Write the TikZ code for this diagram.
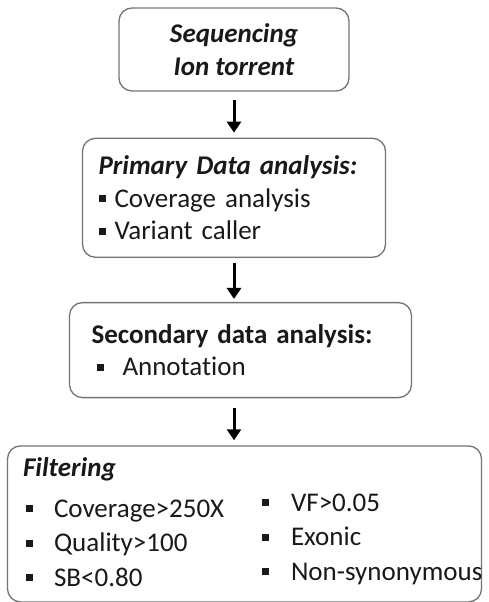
\documentclass[tikz,border=0pt]{standalone}
\usepackage{fontspec}
\setmainfont{Carlito}[Ligatures=NoCommon]
\usetikzlibrary{positioning,arrows.meta}
\newcommand{\sqbullet}[1][9pt]{\rule[5pt]{7pt}{7pt}\hspace{#1}}

\begin{document}
\begin{tikzpicture}[x=1pt, y=1pt, node distance=45pt,
		box/.style = {draw=black!55, line width=1.3pt, rounded corners=13pt,
			font=\fontsize{27}{32.5}\selectfont, text=black!90},
		txt/.style = {font=\fontsize{27}{34.5}\selectfont, text=black!90, inner sep=0pt, align=left},
		arr/.style = {-{Triangle[width=14pt,length=11pt]}, line width=3pt}]
		\useasboundingbox (0,0) rectangle (489,-602);
		\node[box, minimum width=230pt, minimum height=83pt, align=center] (seq) at (234,-49.5) {\bfseries\itshape Sequencing\\\bfseries\itshape Ion torrent};
		\node[box, minimum height=119pt, text width=271pt, inner xsep=16pt, align=left] (prim) [below=46pt of seq] {\textbf{\textit{Primary Data analysis:}}\\\sqbullet Coverage analysis\\\sqbullet Variant caller};
		\node[box, minimum height=95pt, text width=298pt, inner xsep=22pt, align=left] (sec) [below=44pt of prim, xshift=6.5pt] {\textbf{Secondary data analysis:}\\\hspace{5pt}\sqbullet[19pt]Annotation};
		\node[box, minimum width=474pt, minimum height=156pt] (filt) [below=47pt of sec, xshift=4pt] {};
		% contents of the last box
		\node[txt, anchor=base west] (head) at ([shift={(16,-31)}]filt.north west) {\textbf{\textit{Filtering}}};
		\node[txt, anchor=base west] (left) at ([shift={(19,-141)}]filt.north west) {\sqbullet[21pt]Coverage>250X\\\sqbullet[21pt]Quality>100\\\sqbullet[21pt]SB<0.80};
		\node[txt, anchor=base west] (right) at ([shift={(255,-135)}]filt.north west) {\sqbullet[22pt]VF>0.05\\\sqbullet[22pt]Exonic\\\sqbullet[22pt]Non-synonymous};
		\draw[arr, shorten <=8pt, shorten >=5pt] (seq) -- (prim);
		\draw[arr, shorten <=5pt, shorten >=3pt] (prim.south) -- (prim.south |- sec.north);
		\draw[arr, shorten <=10pt, shorten >=5pt] (sec.south -| seq) -- (filt.north -| seq);
	\end{tikzpicture}
\end{document}
